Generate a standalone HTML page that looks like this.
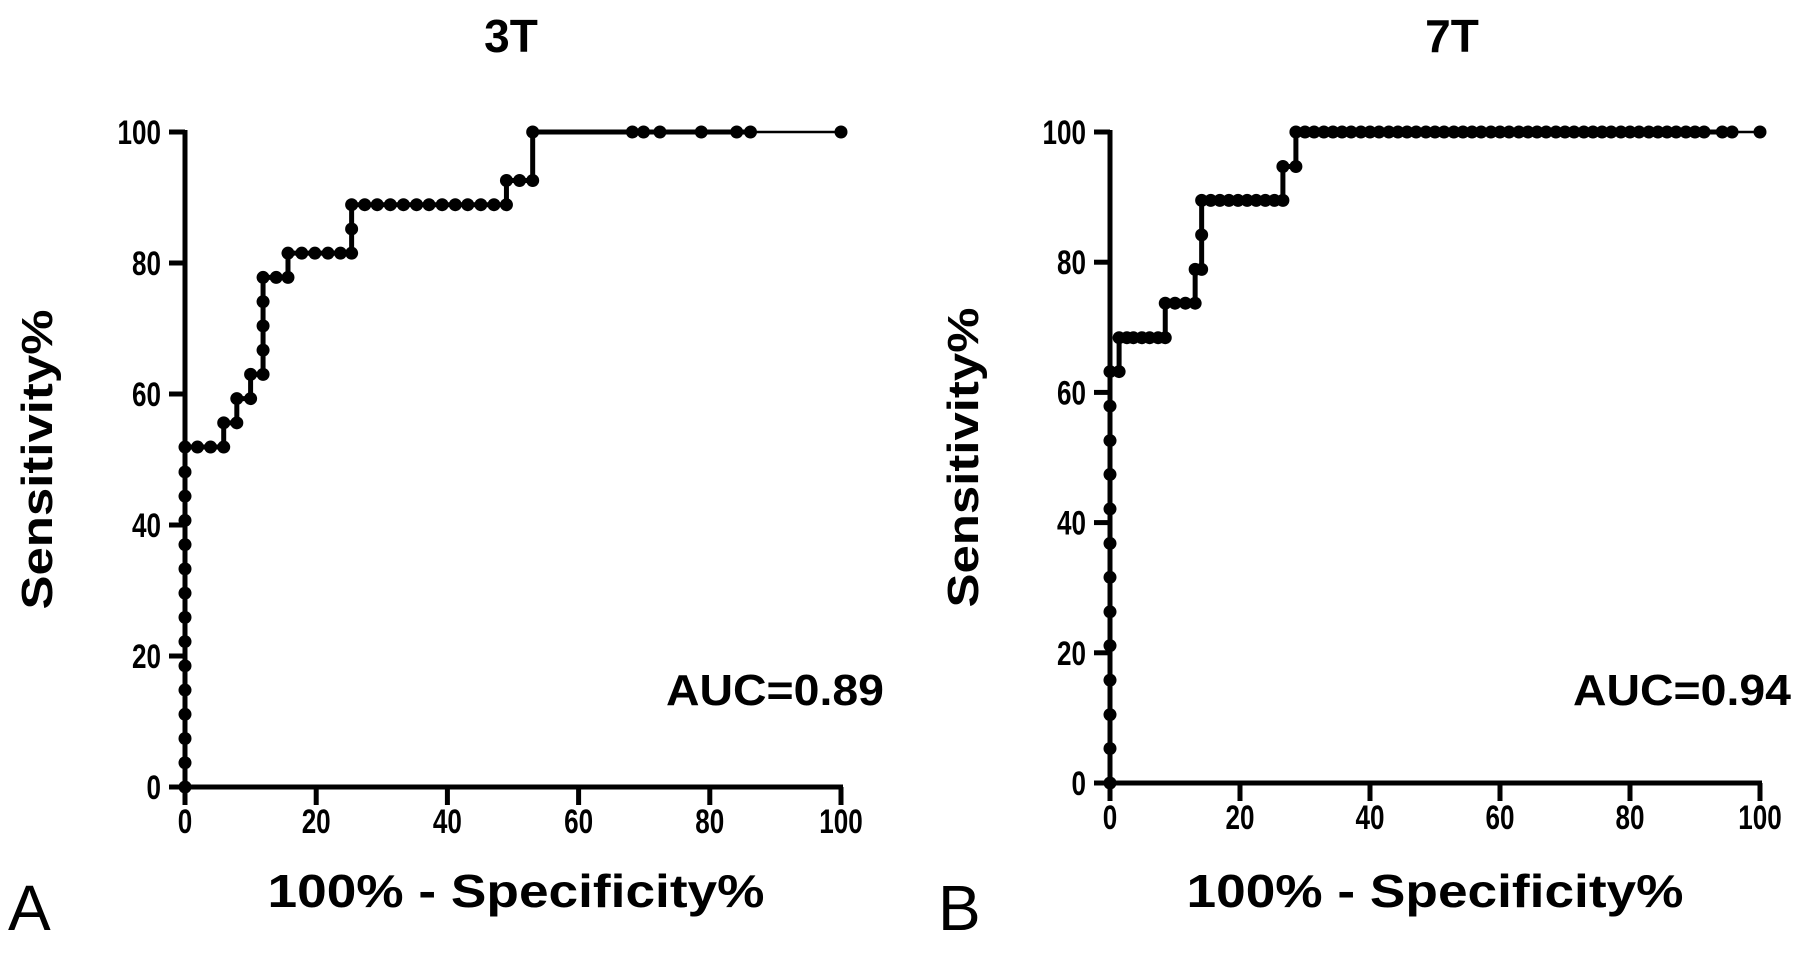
<!DOCTYPE html>
<html><head><meta charset="utf-8"><style>
html,body{margin:0;padding:0;background:#fff;}
svg{display:block;font-family:"Liberation Sans",sans-serif;}
</style></head><body>
<svg id="fig" width="1800" height="953" viewBox="0 0 1800 953" xmlns="http://www.w3.org/2000/svg"></svg>
<script>
// ---- Data: panel A (3T) ----
const xA = [0,0,0,0,0,0,0,0,0,0,0,0,0,0,0,1.9,3.9,5.9,5.9,7.9,7.9,10.0,10.0,11.9,11.9,11.9,11.9,11.9,13.9,15.7,15.7,17.8,19.8,21.8,23.7,25.4,25.4,25.4,27.4,29.3,31.3,33.3,35.3,37.2,39.2,41.2,43.1,45.1,47.1,49.0,49.0,51.0,53.0,53.0,68.2,69.9,72.4,78.7,84.1,86.2,100];
const yA = [0,3.7,7.4,11.1,14.8,18.5,22.2,25.9,29.6,33.3,37.0,40.7,44.4,48.1,51.9,51.9,51.9,51.9,55.6,55.6,59.3,59.3,63.0,63.0,66.7,70.4,74.1,77.8,77.8,77.8,81.5,81.5,81.5,81.5,81.5,81.5,85.2,88.9,88.9,88.9,88.9,88.9,88.9,88.9,88.9,88.9,88.9,88.9,88.9,88.9,92.6,92.6,92.6,100,100,100,100,100,100,100,100];
// ---- Data: panel B (7T) ----
const xB = [0,0,0,0,0,0,0,0,0,0,0,0,0,1.4,1.4,2.6,3.6,4.9,6.1,7.4,8.5,8.5,10.0,11.6,13.1,13.1,14.1,14.1,14.1,15.5,16.9,18.3,19.7,21.1,22.5,23.9,25.3,26.6,26.6,28.6,28.6,30.0,31.4,32.9,34.3,35.7,37.1,38.6,40.0,41.4,42.9,44.3,45.7,47.1,48.6,50.0,51.4,52.9,54.3,55.7,57.1,58.6,60.0,61.4,62.9,64.3,65.7,67.1,68.6,70.0,71.4,72.9,74.3,75.7,77.1,78.6,80.0,81.4,82.9,84.3,85.7,87.1,88.6,90.0,91.4,94.2,95.7,100];
const yB = [0,5.3,10.5,15.8,21.1,26.3,31.6,36.8,42.1,47.4,52.6,57.9,63.2,63.2,68.4,68.4,68.4,68.4,68.4,68.4,68.4,73.7,73.7,73.7,73.7,78.9,78.9,84.2,89.5,89.5,89.5,89.5,89.5,89.5,89.5,89.5,89.5,89.5,94.7,94.7,100,100,100,100,100,100,100,100,100,100,100,100,100,100,100,100,100,100,100,100,100,100,100,100,100,100,100,100,100,100,100,100,100,100,100,100,100,100,100,100,100,100,100,100,100,100,100,100];
const xTicks = [0,20,40,60,80,100];
const yTicks = [0,20,40,60,80,100];
const titles = ["3T","7T"];
const aucs = ["AUC=0.89","AUC=0.94"];
const panelLetters = ["A","B"];

const NS = "http://www.w3.org/2000/svg";
const svg = document.getElementById("fig");
function mk(tag, attrs, parent){
  const e = document.createElementNS(NS, tag);
  for (const k in attrs) e.setAttribute(k, attrs[k]);
  (parent||svg).appendChild(e);
  return e;
}
const panels = [
  {x0:185, x1:841, y0:787, y1:132, xs:xA, ys:yA, id:"a", tx:511, ylab:36, auc:884, letter:8, xt:516},
  {x0:1110, x1:1760, y0:783, y1:132, xs:xB, ys:yB, id:"b", tx:1452, ylab:962, auc:1791, letter:938, xt:1435}
];
panels.forEach((p, i) => {
  const g = mk("g", {});
  
  
  const sx = v => p.x0 + (p.x1 - p.x0) * v / 100;
  const sy = v => p.y0 - (p.y0 - p.y1) * v / 100;
  // title
  const t = mk("text", {x:p.tx, y:52, "text-anchor":"middle", "font-size":46, "font-weight":"bold"}, g);
  t.textContent = titles[i];
  
  
  // axes
  const ya = mk("line", {x1:p.x0, y1:sy(100)-2, x2:p.x0, y2:p.y0+2, stroke:"#000", "stroke-width":5}, g);
  
  
  const xa = mk("line", {x1:p.x0-2, y1:p.y0, x2:sx(100)+2, y2:p.y0, stroke:"#000", "stroke-width":5}, g);
  
  
  yTicks.forEach(v => {
    const tk = mk("line", {x1:p.x0-16, y1:sy(v), x2:p.x0, y2:sy(v), stroke:"#000", "stroke-width":5}, g);
    
    
    const lb = mk("text", {x:p.x0-24, y:sy(v)+12, "text-anchor":"end", "font-size":34, "font-weight":"bold", "textLength": String(v).length*14.5, lengthAdjust:"spacingAndGlyphs"}, g);
    lb.textContent = v;
    
    
  });
  xTicks.forEach(v => {
    const tk = mk("line", {x1:sx(v), y1:p.y0, x2:sx(v), y2:p.y0+18, stroke:"#000", "stroke-width":5}, g);
    
    
    const lb = mk("text", {x:sx(v), y:p.y0+46, "text-anchor":"middle", "font-size":34, "font-weight":"bold", "textLength": String(v).length*14.5, lengthAdjust:"spacingAndGlyphs"}, g);
    lb.textContent = v;
    
    
  });
  // axis titles
  const yt = mk("text", {x:0, y:0, "text-anchor":"middle", "font-size":44, "font-weight":"bold", transform:`translate(${p.ylab+16},${(p.y0+p.y1)/2}) rotate(-90)`, textLength:300, lengthAdjust:"spacingAndGlyphs"}, g);
  yt.textContent = "Sensitivity%";
  
  
  const xt = mk("text", {x:p.xt, y:907, "text-anchor":"middle", "font-size":46, "font-weight":"bold", textLength:497, lengthAdjust:"spacingAndGlyphs"}, g);
  xt.textContent = "100% - Specificity%";
  
  
  const pl = mk("text", {x:p.letter, y:930, "font-size":64}, g);
  pl.textContent = panelLetters[i];
  
  
  const au = mk("text", {x:p.auc, y:705, "text-anchor":"end", "font-size":44, "font-weight":"bold", textLength:218, lengthAdjust:"spacingAndGlyphs"}, g);
  au.textContent = aucs[i];
  
  
  // curve
  const xs = p.xs, ys = p.ys;
  let d = "";
  for (let k = 0; k < xs.length - 1; k++) d += (k ? "L" : "M") + sx(xs[k]) + " " + sy(ys[k]);
  const path = mk("path", {d:d, fill:"none", stroke:"#000", "stroke-width":5}, g);
  
  
  const n = xs.length;
  const tail = mk("line", {x1:sx(xs[n-2]), y1:sy(ys[n-2]), x2:sx(xs[n-1]), y2:sy(ys[n-1]), stroke:"#000", "stroke-width":2.5}, g);
  
  
  for (let k = 0; k < n; k++) {
    const c = mk("circle", {cx:sx(xs[k]), cy:sy(ys[k]), r:6.5, fill:"#000"}, g);
    
    
  }
});
</script>
</body></html>
